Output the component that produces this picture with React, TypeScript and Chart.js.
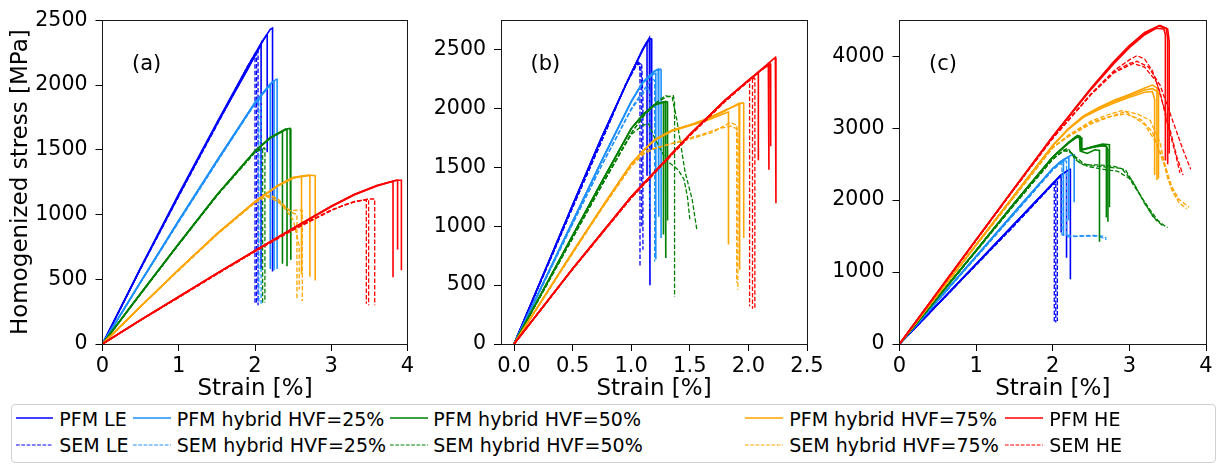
import React, { useEffect, useRef } from "react";
import { Chart, registerables } from "chart.js";

Chart.register(...registerables);
Chart.defaults.font.family = "'DejaVu Sans', sans-serif";
Chart.defaults.color = "#000";

// ---------- labels / styles ----------
const pfmLabels = ["PFM LE", "PFM hybrid HVF=25%", "PFM hybrid HVF=50%", "PFM hybrid HVF=75%", "PFM HE"];
const semLabels = ["SEM LE", "SEM hybrid HVF=25%", "SEM hybrid HVF=50%", "SEM hybrid HVF=75%", "SEM HE"];
const groupColors = ["#0000ff", "#1e90ff", "#008000", "#ffa500", "#ff0000"];

// ---------- axis ticks ----------
const xTicksA = [0, 1, 2, 3, 4];
const yTicksA = [0, 500, 1000, 1500, 2000, 2500];
const xTicksB = [0, 0.5, 1.0, 1.5, 2.0, 2.5];
const yTicksB = [0, 500, 1000, 1500, 2000, 2500];
const xTicksC = [0, 1, 2, 3, 4];
const yTicksC = [0, 1000, 2000, 3000, 4000];

// ---------- panel (a): [strain %, stress MPa] pairs, one array per specimen ----------
const a_PFM_LE = [
  [0, 0, 0.5, 585, 1, 1150, 1.5, 1700, 1.9, 2120, 2.05, 2280, 2.08, 2320, 2.08, 580],
  [0, 0, 0.5, 585, 1, 1150, 1.5, 1700, 1.9, 2120, 2.05, 2290, 2.15, 2385, 2.16, 2385, 2.16, 1480],
  [0, 0, 0.5, 590, 1, 1160, 1.5, 1710, 1.9, 2140, 2.1, 2340, 2.2, 2430, 2.23, 2440, 2.23, 560],
];
const a_SEM_LE = [
  [0, 0, 0.5, 580, 1, 1140, 1.5, 1690, 1.9, 2130, 2.0, 2240, 2.0, 310],
  [0, 0, 0.5, 585, 1, 1150, 1.5, 1700, 1.9, 2140, 2.02, 2265, 2.02, 320],
  [0, 0, 0.5, 585, 1, 1150, 1.5, 1700, 1.9, 2140, 2.04, 2270, 2.04, 300],
];
const a_PFM_25 = [
  [0, 0, 0.5, 480, 1, 950, 1.5, 1410, 2, 1860, 2.2, 2000, 2.2, 580],
  [0, 0, 0.5, 480, 1, 955, 1.5, 1415, 2, 1865, 2.24, 2030, 2.25, 2030, 2.25, 570],
  [0, 0, 0.5, 480, 1, 955, 1.5, 1415, 2, 1865, 2.2, 2010, 2.28, 2045, 2.29, 2045, 2.29, 580],
];
const a_SEM_25 = [
  [0, 0, 0.5, 475, 1, 945, 1.5, 1405, 2, 1860, 2.05, 1885, 2.05, 320],
  [0, 0, 0.5, 475, 1, 945, 1.5, 1405, 2, 1855, 2.08, 1895, 2.08, 310],
];
const a_PFM_50 = [
  [0, 0, 0.5, 390, 1, 775, 1.5, 1150, 2, 1490, 2.2, 1590, 2.35, 1640, 2.36, 1640, 2.36, 620],
  [0, 0, 0.5, 390, 1, 775, 1.5, 1150, 2, 1490, 2.2, 1595, 2.4, 1660, 2.46, 1665, 2.47, 1665, 2.47, 650],
  [0, 0, 0.5, 390, 1, 775, 1.5, 1150, 2, 1490, 2.2, 1590, 2.4, 1655, 2.42, 1655, 2.42, 600],
];
const a_SEM_50 = [
  [0, 0, 0.5, 385, 1, 770, 1.5, 1145, 2, 1480, 2.08, 1510, 2.1, 1505, 2.1, 310],
  [0, 0, 0.5, 385, 1, 770, 1.5, 1145, 2, 1480, 2.12, 1515, 2.13, 1510, 2.13, 320],
];
const a_PFM_75 = [
  [0, 0, 0.5, 290, 1, 575, 1.5, 850, 2, 1100, 2.3, 1220, 2.5, 1280, 2.6, 1295, 2.61, 1295, 2.61, 540],
  [0, 0, 0.5, 290, 1, 575, 1.5, 850, 2, 1100, 2.3, 1225, 2.5, 1285, 2.7, 1300, 2.72, 1300, 2.72, 520],
  [0, 0, 0.5, 290, 1, 575, 1.5, 850, 2, 1100, 2.3, 1225, 2.5, 1285, 2.7, 1305, 2.79, 1300, 2.79, 490],
];
const a_SEM_75 = [
  [0, 0, 0.5, 290, 1, 570, 1.5, 845, 2, 1095, 2.1, 1140, 2.2, 1150, 2.3, 1120, 2.4, 1060, 2.5, 1010, 2.55, 1000, 2.55, 350],
  [0, 0, 0.5, 290, 1, 570, 1.5, 845, 2, 1095, 2.12, 1145, 2.25, 1130, 2.35, 1080, 2.45, 1030, 2.6, 1035, 2.62, 1030, 2.62, 330],
  [0, 0, 0.5, 290, 1, 570, 1.5, 845, 2, 1090, 2.15, 1140, 2.3, 1100, 2.4, 1040, 2.5, 960, 2.58, 760, 2.58, 420],
];
const a_PFM_HE = [
  [0, 0, 0.5, 185, 1, 365, 1.5, 545, 2, 720, 2.5, 890, 3, 1060, 3.3, 1150, 3.6, 1220, 3.8, 1255, 3.81, 1255, 3.81, 515],
  [0, 0, 0.5, 185, 1, 365, 1.5, 545, 2, 720, 2.5, 895, 3, 1065, 3.3, 1155, 3.6, 1225, 3.86, 1265, 3.87, 1265, 3.87, 730],
  [0, 0, 0.5, 185, 1, 365, 1.5, 545, 2, 720, 2.5, 895, 3, 1065, 3.3, 1155, 3.6, 1225, 3.85, 1265, 3.92, 1265, 3.92, 570],
];
const a_SEM_HE = [
  [0, 0, 0.5, 185, 1, 360, 1.5, 540, 2, 715, 2.5, 880, 3, 1030, 3.2, 1080, 3.4, 1110, 3.46, 1110, 3.46, 310],
  [0, 0, 0.5, 185, 1, 360, 1.5, 540, 2, 715, 2.5, 885, 3, 1035, 3.3, 1100, 3.45, 1115, 3.49, 1120, 3.49, 300],
  [0, 0, 0.5, 185, 1, 360, 1.5, 540, 2, 715, 2.5, 885, 3, 1035, 3.3, 1100, 3.5, 1120, 3.57, 1120, 3.57, 300],
];

// ---------- panel (b) ----------
const b_PFM_LE = [
  [0, 0, 0.25, 590, 0.5, 1180, 0.75, 1760, 1, 2300, 1.1, 2500, 1.13, 2560, 1.135, 2560, 1.135, 1430],
  [0, 0, 0.25, 590, 0.5, 1180, 0.75, 1760, 1, 2300, 1.1, 2510, 1.155, 2600, 1.16, 2595, 1.16, 500],
  [0, 0, 0.25, 590, 0.5, 1180, 0.75, 1760, 1, 2300, 1.1, 2505, 1.16, 2595, 1.175, 2590, 1.175, 1650],
];
const b_SEM_LE = [
  [0, 0, 0.25, 580, 0.5, 1160, 0.75, 1730, 0.95, 2200, 1.05, 2390, 1.07, 2380, 1.075, 2300, 1.075, 650],
  [0, 0, 0.25, 580, 0.5, 1160, 0.75, 1730, 0.95, 2200, 1.04, 2370, 1.08, 2380, 1.09, 2200, 1.09, 1000],
  [0, 0, 0.25, 580, 0.5, 1160, 0.75, 1730, 0.95, 2195, 1.06, 2395, 1.09, 2370, 1.1, 2100, 1.1, 800],
];
const b_PFM_25 = [
  [0, 0, 0.25, 520, 0.5, 1040, 0.75, 1560, 1, 2060, 1.1, 2220, 1.2, 2300, 1.21, 2300, 1.21, 720],
  [0, 0, 0.25, 520, 0.5, 1040, 0.75, 1560, 1, 2060, 1.1, 2225, 1.2, 2320, 1.23, 2335, 1.235, 2330, 1.235, 1080],
  [0, 0, 0.25, 520, 0.5, 1040, 0.75, 1560, 1, 2060, 1.1, 2225, 1.2, 2320, 1.25, 2335, 1.255, 2330, 1.255, 900],
];
const b_SEM_25 = [
  [0, 0, 0.25, 510, 0.5, 1020, 0.75, 1520, 1, 2000, 1.1, 2150, 1.18, 2250, 1.2, 2240, 1.2, 700],
  [0, 0, 0.25, 510, 0.5, 1020, 0.75, 1520, 1, 1990, 1.1, 2130, 1.15, 2180, 1.16, 2100, 1.16, 1150],
];
const b_PFM_50 = [
  [0, 0, 0.25, 460, 0.5, 920, 0.75, 1380, 1, 1830, 1.1, 1950, 1.2, 2030, 1.27, 2055, 1.275, 2050, 1.275, 930],
  [0, 0, 0.25, 460, 0.5, 920, 0.75, 1380, 1, 1830, 1.1, 1950, 1.2, 2035, 1.29, 2060, 1.295, 2055, 1.295, 730],
  [0, 0, 0.25, 460, 0.5, 920, 0.75, 1380, 1, 1830, 1.1, 1945, 1.2, 2030, 1.3, 2060, 1.31, 2055, 1.31, 1050],
];
const b_SEM_50 = [
  [0, 0, 0.25, 450, 0.5, 900, 0.75, 1350, 1, 1780, 1.1, 1860, 1.15, 1870, 1.2, 1750, 1.3, 1560, 1.4, 1480, 1.45, 1400, 1.48, 1250, 1.5, 1060],
  [0, 0, 0.25, 450, 0.5, 900, 0.75, 1350, 1, 1790, 1.1, 1930, 1.2, 2040, 1.29, 2110, 1.35, 2095, 1.39, 1900, 1.46, 1460, 1.52, 1230, 1.56, 970],
  [0, 0, 0.25, 450, 0.5, 900, 0.75, 1350, 1, 1790, 1.1, 1930, 1.2, 2040, 1.3, 2100, 1.36, 2110, 1.37, 2050, 1.37, 400],
];
const b_PFM_75 = [
  [0, 0, 0.25, 390, 0.5, 780, 0.75, 1160, 1, 1530, 1.1, 1640, 1.2, 1730, 1.35, 1810, 1.5, 1855, 1.65, 1900, 1.8, 1960, 1.83, 1970, 1.83, 845],
  [0, 0, 0.25, 390, 0.5, 780, 0.75, 1160, 1, 1530, 1.1, 1640, 1.2, 1735, 1.35, 1815, 1.5, 1860, 1.65, 1910, 1.8, 1980, 1.92, 2045, 1.925, 2040, 1.925, 630],
  [0, 0, 0.25, 390, 0.5, 780, 0.75, 1160, 1, 1530, 1.1, 1640, 1.2, 1735, 1.35, 1815, 1.5, 1860, 1.65, 1915, 1.8, 1985, 1.95, 2050, 1.96, 2045, 1.96, 900],
];
const b_SEM_75 = [
  [0, 0, 0.25, 385, 0.5, 770, 0.75, 1150, 1, 1510, 1.1, 1620, 1.15, 1650, 1.3, 1690, 1.5, 1740, 1.7, 1800, 1.8, 1860, 1.85, 1880, 1.9, 1860, 1.91, 1700, 1.91, 460],
  [0, 0, 0.25, 385, 0.5, 770, 0.75, 1150, 1, 1510, 1.1, 1610, 1.2, 1660, 1.4, 1720, 1.6, 1780, 1.75, 1830, 1.85, 1850, 1.9, 1830, 1.9, 520],
];
const b_PFM_HE = [
  [0, 0, 0.5, 640, 1, 1250, 1.5, 1780, 1.8, 2070, 2, 2240, 2.08, 2300, 2.085, 2300, 2.085, 1560],
  [0, 0, 0.5, 640, 1, 1250, 1.5, 1780, 1.8, 2070, 2, 2240, 2.1, 2320, 2.17, 2370, 2.175, 2370, 2.175, 1480],
  [0, 0, 0.5, 640, 1, 1250, 1.5, 1780, 1.8, 2070, 2, 2240, 2.1, 2320, 2.185, 2380, 2.19, 2380, 2.19, 1680],
  [0, 0, 0.5, 640, 1, 1250, 1.5, 1780, 1.8, 2070, 2, 2240, 2.1, 2325, 2.2, 2410, 2.23, 2435, 2.235, 2430, 2.235, 1195],
];
const b_SEM_HE = [
  [0, 0, 0.5, 635, 1, 1240, 1.5, 1770, 1.8, 2060, 2, 2230, 2.01, 2240, 2.01, 320],
  [0, 0, 0.5, 635, 1, 1240, 1.5, 1770, 1.8, 2060, 2, 2235, 2.03, 2255, 2.035, 2250, 2.035, 300],
  [0, 0, 0.5, 635, 1, 1240, 1.5, 1770, 1.8, 2060, 2, 2235, 2.05, 2260, 2.055, 2255, 2.055, 290],
];

// ---------- panel (c) ----------
const c_PFM_LE = [
  [0, 0, 0.5, 555, 1, 1110, 1.5, 1670, 2, 2230, 2.1, 2330, 2.11, 2330, 2.11, 1550],
  [0, 0, 0.5, 555, 1, 1110, 1.5, 1670, 2, 2230, 2.1, 2340, 2.18, 2400, 2.18, 1200],
  [0, 0, 0.5, 555, 1, 1110, 1.5, 1670, 2, 2230, 2.1, 2345, 2.22, 2430, 2.23, 2430, 2.23, 900],
];
const c_SEM_LE = [
  [0, 0, 0.5, 550, 1, 1100, 1.5, 1650, 2, 2220, 2.02, 2240, 2.02, 310],
  [0, 0, 0.5, 550, 1, 1100, 1.5, 1650, 2, 2220, 2.04, 2260, 2.04, 300],
  [0, 0, 0.5, 550, 1, 1100, 1.5, 1650, 2, 2220, 2.06, 2270, 2.06, 320],
];
const c_PFM_25 = [
  [0, 0, 0.5, 610, 1, 1220, 1.5, 1830, 2, 2440, 2.1, 2530, 2.14, 2560, 2.14, 1500],
  [0, 0, 0.5, 610, 1, 1220, 1.5, 1830, 2, 2440, 2.1, 2535, 2.21, 2600, 2.21, 1720],
  [0, 0, 0.5, 610, 1, 1220, 1.5, 1830, 2, 2440, 2.15, 2570, 2.25, 2630, 2.28, 2630, 2.28, 1970],
];
const c_SEM_25 = [
  [0, 0, 0.5, 600, 1, 1205, 1.5, 1810, 2, 2420, 2.1, 2510, 2.12, 2500, 2.12, 1520, 2.3, 1500, 2.5, 1510, 2.65, 1500, 2.7, 1470],
  [0, 0, 0.5, 600, 1, 1205, 1.5, 1810, 2, 2420, 2.15, 2550, 2.18, 2540, 2.18, 1490, 2.4, 1500, 2.6, 1500, 2.7, 1450],
];
const c_PFM_50 = [
  [0, 0, 0.5, 650, 1, 1300, 1.5, 1960, 2, 2600, 2.2, 2800, 2.3, 2880, 2.35, 2890, 2.36, 2700, 2.45, 2720, 2.6, 2760, 2.7, 2750, 2.72, 2700, 2.72, 1700],
  [0, 0, 0.5, 650, 1, 1300, 1.5, 1960, 2, 2600, 2.2, 2790, 2.32, 2900, 2.36, 2880, 2.37, 2690, 2.5, 2740, 2.65, 2780, 2.74, 2770, 2.74, 1900],
  [0, 0, 0.5, 650, 1, 1300, 1.5, 1960, 2, 2600, 2.2, 2790, 2.3, 2870, 2.35, 2870, 2.36, 2680, 2.45, 2650, 2.55, 2700, 2.61, 2690, 2.61, 1420],
  [0, 0, 0.5, 650, 1, 1300, 1.5, 1960, 2, 2600, 2.2, 2790, 2.32, 2880, 2.37, 2870, 2.38, 2700, 2.55, 2740, 2.68, 2760, 2.7, 2740, 2.7, 1760],
];
const c_SEM_50 = [
  [0, 0, 0.5, 645, 1, 1290, 1.5, 1940, 2, 2570, 2.15, 2700, 2.2, 2720, 2.3, 2560, 2.4, 2490, 2.6, 2490, 2.8, 2470, 2.95, 2420, 3.1, 2150, 3.3, 1780, 3.45, 1650, 3.5, 1620],
  [0, 0, 0.5, 645, 1, 1290, 1.5, 1940, 2, 2570, 2.15, 2690, 2.25, 2650, 2.35, 2520, 2.5, 2480, 2.7, 2460, 2.9, 2440, 3.05, 2250, 3.2, 1950, 3.35, 1720, 3.45, 1630],
  [0, 0, 0.5, 645, 1, 1290, 1.5, 1940, 2, 2570, 2.1, 2660, 2.2, 2700, 2.3, 2600, 2.45, 2470, 2.65, 2430, 2.85, 2400, 3.0, 2300, 3.15, 2050, 3.3, 1820, 3.4, 1680],
];
const c_PFM_75 = [
  [0, 0, 0.5, 690, 1, 1380, 1.5, 2070, 2, 2760, 2.2, 2980, 2.4, 3150, 2.6, 3260, 2.8, 3350, 3, 3430, 3.2, 3500, 3.3, 3510, 3.33, 3400, 3.33, 2350],
  [0, 0, 0.5, 690, 1, 1380, 1.5, 2070, 2, 2760, 2.2, 2990, 2.4, 3170, 2.6, 3290, 2.8, 3390, 3, 3470, 3.2, 3560, 3.3, 3600, 3.36, 3560, 3.36, 2280],
  [0, 0, 0.5, 690, 1, 1380, 1.5, 2070, 2, 2760, 2.2, 2985, 2.4, 3160, 2.6, 3280, 2.8, 3370, 3, 3450, 3.2, 3530, 3.3, 3550, 3.38, 3500, 3.38, 2300],
];
const c_SEM_75 = [
  [0, 0, 0.5, 685, 1, 1370, 1.5, 2050, 2, 2730, 2.2, 2900, 2.5, 3100, 2.7, 3180, 2.9, 3245, 3.1, 3200, 3.27, 3110, 3.4, 2800, 3.5, 2300, 3.6, 2050, 3.78, 1900],
  [0, 0, 0.5, 685, 1, 1370, 1.5, 2050, 2, 2730, 2.2, 2890, 2.5, 3080, 2.7, 3150, 2.95, 3200, 3.15, 3120, 3.3, 2950, 3.45, 2500, 3.55, 2150, 3.65, 1960, 3.75, 1880],
  [0, 0, 0.5, 685, 1, 1370, 1.5, 2050, 2, 2730, 2.2, 2880, 2.5, 3060, 2.8, 3180, 2.95, 3230, 3.2, 3050, 3.35, 2800, 3.45, 2550, 3.55, 2200, 3.65, 2000],
];
const c_PFM_HE = [
  [0, 0, 0.5, 725, 1, 1450, 1.5, 2170, 2, 2880, 2.5, 3540, 2.8, 3900, 3, 4120, 3.2, 4300, 3.35, 4390, 3.45, 4380, 3.47, 4300, 3.47, 2550],
  [0, 0, 0.5, 725, 1, 1450, 1.5, 2170, 2, 2880, 2.5, 3550, 2.8, 3920, 3, 4140, 3.2, 4320, 3.38, 4420, 3.48, 4390, 3.5, 4250, 3.5, 2500],
  [0, 0, 0.5, 725, 1, 1450, 1.5, 2170, 2, 2890, 2.5, 3560, 2.8, 3930, 3, 4150, 3.2, 4330, 3.4, 4430, 3.5, 4380, 3.52, 4200, 3.52, 2650],
];
const c_SEM_HE = [
  [0, 0, 0.5, 720, 1, 1440, 1.5, 2160, 2, 2860, 2.5, 3480, 2.8, 3800, 3, 3950, 3.1, 4010, 3.2, 3960, 3.3, 3800, 3.4, 3500, 3.5, 3050, 3.6, 2650, 3.66, 2380],
  [0, 0, 0.5, 720, 1, 1440, 1.5, 2160, 2, 2860, 2.5, 3470, 2.8, 3780, 3, 3900, 3.1, 3930, 3.25, 3850, 3.4, 3600, 3.5, 3300, 3.6, 3000, 3.7, 2700, 3.8, 2430],
  [0, 0, 0.5, 720, 1, 1440, 1.5, 2160, 2, 2860, 2.5, 3470, 2.8, 3770, 3.05, 3900, 3.2, 3850, 3.35, 3650, 3.45, 3300, 3.55, 2900, 3.62, 2600, 3.7, 2350],
];

// ---------- panel definitions ----------
type PanelCfg = {
  tag: string;
  pfm: number[][][];
  sem: number[][][];
  xMin: number; xMax: number; yMin: number; yMax: number;
  xTicks: number[]; yTicks: number[]; xDec: number;
  yTitle: boolean;
};

const panels: PanelCfg[] = [
  { tag: "(a)", pfm: [a_PFM_LE, a_PFM_25, a_PFM_50, a_PFM_75, a_PFM_HE], sem: [a_SEM_LE, a_SEM_25, a_SEM_50, a_SEM_75, a_SEM_HE],
    xMin: 0, xMax: 4, yMin: 0, yMax: 2500, xTicks: xTicksA, yTicks: yTicksA, xDec: 0, yTitle: true },
  { tag: "(b)", pfm: [b_PFM_LE, b_PFM_25, b_PFM_50, b_PFM_75, b_PFM_HE], sem: [b_SEM_LE, b_SEM_25, b_SEM_50, b_SEM_75, b_SEM_HE],
    xMin: -0.111, xMax: 2.5, yMin: 0, yMax: 2750, xTicks: xTicksB, yTicks: yTicksB, xDec: 1, yTitle: false },
  { tag: "(c)", pfm: [c_PFM_LE, c_PFM_25, c_PFM_50, c_PFM_75, c_PFM_HE], sem: [c_SEM_LE, c_SEM_25, c_SEM_50, c_SEM_75, c_SEM_HE],
    xMin: 0, xMax: 4, yMin: 0, yMax: 4500, xTicks: xTicksC, yTicks: yTicksC, xDec: 0, yTitle: false },
];

// layout of each canvas (page pixels)
const panelBoxes = [
  { left: 0, width: 420, yWidth: 102.5, padRight: 12.5 },
  { left: 420, width: 420, yWidth: 81, padRight: 33 },
  { left: 820, width: 404, yWidth: 79.5, padRight: 18 },
];
const CANVAS_H = 403;
const PLOT_TOP = 16;
const PLOT_BOTTOM = 344;

const toPoints = (flat: number[]) => {
  const pts: { x: number; y: number }[] = [];
  for (let i = 0; i + 1 < flat.length; i += 2) pts.push({ x: flat[i], y: flat[i + 1] });
  return pts;
};

const framePlugin = {
  id: "frame",
  afterDatasetsDraw(chart: any) {
    const { ctx, chartArea } = chart;
    const l = Math.floor(chartArea.left) + 0.5;
    const r = Math.floor(chartArea.right) + 0.5;
    const t = Math.floor(chartArea.top) + 0.5;
    const b = Math.floor(chartArea.bottom) + 0.5;
    ctx.save();
    ctx.strokeStyle = "#1a1a1a";
    ctx.lineWidth = 1;
    ctx.strokeRect(l, t, r - l, b - t);
    ctx.restore();
  },
};

const tagPlugin = {
  id: "panelTag",
  afterDatasetsDraw(chart: any, _args: any, opts: any) {
    const { ctx, chartArea } = chart;
    ctx.save();
    ctx.font = "21px 'DejaVu Sans'";
    ctx.fillStyle = "#000";
    ctx.textAlign = "left";
    ctx.textBaseline = "middle";
    ctx.fillText(opts.text, chartArea.left + 29.5, 65);
    ctx.restore();
  },
};

function Panel({ idx }: { idx: number }) {
  const ref = useRef<HTMLCanvasElement>(null);
  const cfg = panels[idx];
  const box = panelBoxes[idx];
  useEffect(() => {
    const datasets: any[] = [];
    for (let g = 0; g < 5; g++) {
      cfg.pfm[g].forEach((s) =>
        datasets.push({
          label: pfmLabels[g], data: toPoints(s), borderColor: groupColors[g],
          borderWidth: 1.6, pointRadius: 0, fill: false, tension: 0,
        })
      );
      cfg.sem[g].forEach((s) =>
        datasets.push({
          label: semLabels[g], data: toPoints(s), borderColor: groupColors[g],
          borderWidth: 1.3, borderDash: [4.5, 2], pointRadius: 0, fill: false, tension: 0,
        })
      );
    }
    datasets.reverse(); // first dataset is drawn on top in Chart.js
    const chart = new Chart(ref.current as HTMLCanvasElement, {
      type: "line",
      data: { datasets },
      plugins: [framePlugin, tagPlugin],
      options: {
        animation: false,
        responsive: false,
        events: [],
        layout: { padding: { top: PLOT_TOP, right: box.padRight, bottom: 0, left: 0 } },
        plugins: {
          legend: { display: false },
          tooltip: { enabled: false },
          panelTag: { text: cfg.tag },
        } as any,
        scales: {
          x: {
            type: "linear",
            min: cfg.xMin,
            max: cfg.xMax,
            afterFit: (s: any) => { s.height = CANVAS_H - PLOT_BOTTOM; },
            afterBuildTicks: (s: any) => { s.ticks = cfg.xTicks.map((v) => ({ value: v })); },
            ticks: {
              autoSkip: false, maxRotation: 0, color: "#000", padding: 3,
              font: { size: 21 },
              callback: (v: any) => Number(v).toFixed(cfg.xDec),
            },
            grid: { display: true, drawOnChartArea: false, drawTicks: true, tickLength: 7, color: "#000", tickColor: "#000" },
            border: { display: false },
            title: { display: true, text: "Strain [%]", color: "#000", font: { size: 23 }, padding: { top: 0, bottom: 0 } },
          },
          y: {
            type: "linear",
            min: cfg.yMin,
            max: cfg.yMax,
            afterFit: (s: any) => { s.width = box.yWidth; },
            afterBuildTicks: (s: any) => { s.ticks = cfg.yTicks.map((v) => ({ value: v })); },
            ticks: {
              autoSkip: false, color: "#000", padding: 8,
              font: { size: 20.5 },
              callback: (v: any) => String(v),
            },
            grid: { display: true, drawOnChartArea: false, drawTicks: true, tickLength: 7, color: "#000", tickColor: "#000" },
            border: { display: false },
            title: {
              display: cfg.yTitle, text: "Homogenized stress [MPa]", color: "#000",
              font: { size: 23 }, padding: { top: 7, bottom: 0 },
            },
          },
        },
      } as any,
    });
    return () => chart.destroy();
  }, []);
  return (
    <canvas
      ref={ref}
      width={box.width}
      height={CANVAS_H}
      style={{ position: "absolute", left: box.left, top: 0, width: box.width, height: CANVAS_H }}
    />
  );
}

// legend layout (page pixels)
const legendCols = [
  { l: 15.7, r: 53.3, t: 59.3 },
  { l: 132.7, r: 170.7, t: 176.7 },
  { l: 390, r: 428.3, t: 433.3 },
  { l: 745, r: 783.3, t: 789.3 },
  { l: 1005, r: 1043.3, t: 1049.3 },
];
const legendRows = [418.3, 445];

function Legend() {
  const items: React.ReactNode[] = [];
  legendCols.forEach((c, g) => {
    legendRows.forEach((cy, row) => {
      const dashed = row === 1;
      items.push(
        <svg key={`l${g}${row}`} width={c.r - c.l} height={6}
          style={{ position: "absolute", left: c.l, top: cy - 3 }}>
          <line x1={0} x2={c.r - c.l} y1={3} y2={3} stroke={groupColors[g]}
            strokeWidth={dashed ? 1.2 : 1.4} strokeDasharray={dashed ? "3.7 1.6" : undefined} />
        </svg>
      );
      items.push(
        <div key={`t${g}${row}`} style={{
          position: "absolute", left: c.t, top: cy - 10.64, fontFamily: "'DejaVu Sans'",
          fontSize: 19, lineHeight: "22px", whiteSpace: "nowrap", color: "#000",
        }}>
          {dashed ? semLabels[g] : pfmLabels[g]}
        </div>
      );
    });
  });
  return (
    <>
      <div style={{
        position: "absolute", left: 11, top: 404, width: 1205, height: 59, boxSizing: "border-box",
        border: "1px solid #d0d0d0", borderRadius: 4, background: "#fff",
      }} />
      {items}
    </>
  );
}

export default function App() {
  return (
    <div style={{ position: "absolute", left: 0, top: 0, width: 1224, height: 465, background: "#fff", overflow: "hidden" }}>
      <Panel idx={0} />
      <Panel idx={1} />
      <Panel idx={2} />
      <Legend />
    </div>
  );
}
